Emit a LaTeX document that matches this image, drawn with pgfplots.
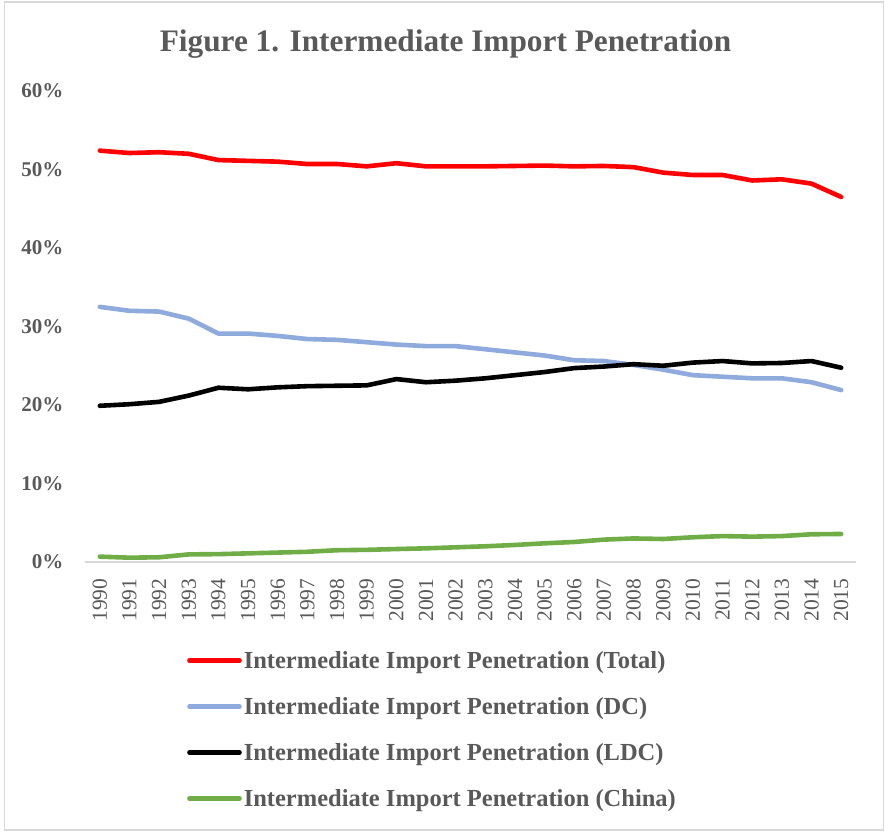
\documentclass[border=0pt]{standalone}
\usepackage{pgfplots}
\pgfplotsset{compat=1.18}
\usepackage{fontspec}
\setmainfont{Liberation Serif}
\definecolor{txtgray}{HTML}{595959}
\definecolor{cred}{HTML}{FF0000}
\definecolor{cblue}{HTML}{8FAADC}
\definecolor{cgreen}{HTML}{70AD47}
\definecolor{bordergray}{HTML}{D9D9D9}
\begin{document}
\begin{tikzpicture}[x=1pt,y=1pt]
\useasboundingbox (0,0) rectangle (884,832);
\draw[bordergray, line width=1.2pt] (4.5,2) rectangle (883.5,830);
\node[anchor=base, font=\fontsize{31.3}{36}\selectfont\bfseries, text=txtgray] at (445.5,780) {Figure 1. Intermediate Import Penetration};
\begin{axis}[
  at={(85pt,270pt)}, anchor=south west,
  scale only axis, width=771pt, height=471pt,
  xmin=1989.5, xmax=2015.5, ymin=0, ymax=60,
  axis x line=bottom, axis y line=left,
  x axis line style={-, draw=bordergray, line width=1.3pt},
  y axis line style={draw=none},
  tick style={draw=none},
  xtick={1990,1991,...,2015},
  ytick={0,10,...,60},
  yticklabels={0\%,10\%,20\%,30\%,40\%,50\%,60\%},
  /pgf/number format/assume math mode=true,
  /pgf/number format/1000 sep={},
  x tick label style={rotate=90, anchor=east, font=\fontsize{21.5}{24}\selectfont, text=txtgray, xshift=-11pt, yshift=0pt},
  y tick label style={anchor=east, font=\fontsize{21}{24}\selectfont\bfseries, text=txtgray, xshift=-16pt},
  clip=false,
  legend style={at={(axis description cs:0.1323,-0.185)}, anchor=north west, draw=none, fill=none, inner sep=0pt,
    font=\fontsize{24.5}{28}\selectfont\bfseries, text=txtgray, row sep=23.5pt,
    nodes={inner sep=2pt}},
  legend cell align=left,
  legend image code/.code={\draw[#1, line cap=round] (0pt,0pt) -- (50pt,0pt);},
  every axis plot/.append style={line width=4.6pt, line cap=round, line join=round, mark=none},
]
\addplot[cred] coordinates {
(1990,52.4)(1991,52.1)(1992,52.2)(1993,52.0)(1994,51.2)(1995,51.1)(1996,51.0)(1997,50.7)(1998,50.7)(1999,50.4)
(2000,50.8)(2001,50.4)(2002,50.4)(2003,50.4)(2004,50.45)(2005,50.5)(2006,50.4)(2007,50.45)(2008,50.3)(2009,49.6)
(2010,49.3)(2011,49.3)(2012,48.6)(2013,48.75)(2014,48.2)(2015,46.5)};
\addlegendentry{Intermediate Import Penetration (Total)}
\addplot[cblue] coordinates {
(1990,32.5)(1991,32.0)(1992,31.9)(1993,31.0)(1994,29.1)(1995,29.1)(1996,28.8)(1997,28.4)(1998,28.3)(1999,28.0)
(2000,27.7)(2001,27.5)(2002,27.5)(2003,27.1)(2004,26.7)(2005,26.3)(2006,25.7)(2007,25.6)(2008,25.1)(2009,24.5)
(2010,23.8)(2011,23.6)(2012,23.4)(2013,23.4)(2014,22.9)(2015,21.9)};
\addlegendentry{Intermediate Import Penetration (DC)}
\addplot[black] coordinates {
(1990,19.9)(1991,20.1)(1992,20.4)(1993,21.2)(1994,22.2)(1995,22.0)(1996,22.25)(1997,22.4)(1998,22.45)(1999,22.5)
(2000,23.3)(2001,22.9)(2002,23.1)(2003,23.4)(2004,23.8)(2005,24.2)(2006,24.7)(2007,24.9)(2008,25.2)(2009,25.0)
(2010,25.4)(2011,25.6)(2012,25.3)(2013,25.35)(2014,25.6)(2015,24.75)};
\addlegendentry{Intermediate Import Penetration (LDC)}
\addplot[cgreen] coordinates {
(1990,0.68)(1991,0.55)(1992,0.6)(1993,0.97)(1994,1.0)(1995,1.1)(1996,1.2)(1997,1.3)(1998,1.5)(1999,1.55)
(2000,1.65)(2001,1.74)(2002,1.87)(2003,2.0)(2004,2.17)(2005,2.38)(2006,2.55)(2007,2.85)(2008,3.0)(2009,2.93)
(2010,3.15)(2011,3.3)(2012,3.23)(2013,3.3)(2014,3.53)(2015,3.57)};
\addlegendentry{Intermediate Import Penetration (China)}
\end{axis}
\end{tikzpicture}
\end{document}
